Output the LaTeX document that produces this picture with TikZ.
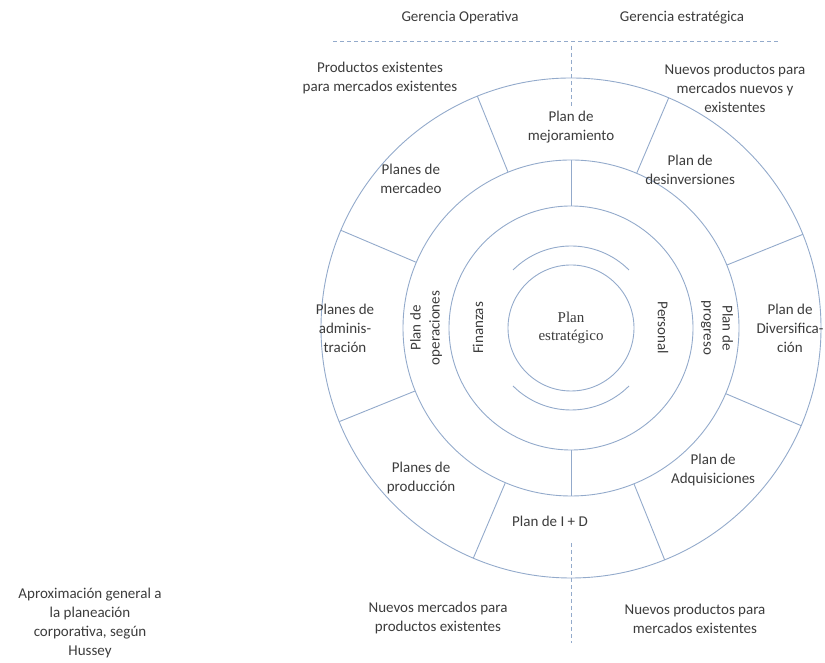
\documentclass[tikz,border=0pt]{standalone}
\usepackage{fontspec}
\setmainfont{Carlito}
\newfontfamily\tnr{Liberation Serif}
\definecolor{linea}{HTML}{93AACB}
\definecolor{texto}{HTML}{3C3C3C}
\begin{document}
\begin{tikzpicture}[x=1pt,y=1pt,font=\fontsize{15}{19}\selectfont,text=texto]
\tikzset{c/.style={draw=linea,line width=0.9pt,circle,inner sep=0,outer sep=0},
t/.style={align=center,inner sep=1pt},
l/.style={draw=linea,line width=0.9pt},
d/.style={draw=linea,line width=0.9pt,dash pattern=on 4pt off 3pt}}
\useasboundingbox(0,0)rectangle(825,663);
\coordinate(O)at(571,335);
%%Circulos
\path(O)node[c,minimum size=500pt](c5){}
node[c,minimum size=336pt](c4){}
node[c,minimum size=244pt](c3){}
node[c,minimum size=126pt,align=center,font=\tnr\fontsize{15}{18}\selectfont](c1){Plan\\estratégico};
\draw[l](O)++(45:82)arc[start angle=45,end angle=135,radius=82];
\draw[l](O)++(225:82)arc[start angle=225,end angle=315,radius=82];
\foreach \a in {22.5,67.5,...,337.5}
\draw[l](c4.\a)--(c5.\a);
\foreach \a in {90,270}
\draw[l](c3.\a)--(c4.\a);
%%Lineas punteadas
\coordinate(h1)at(333,622);\coordinate(h2)at(780,622);
\coordinate(v1)at(571,617);\coordinate(v2)at(571,556);
\coordinate(v3)at(571,120);\coordinate(v4)at(571,20);
\draw[d](h1)--(h2);
\draw[d](v1)--(v2);
\draw[d](v3)--(v4);
%%Anillo exterior
\path(O)++(90:201)node[t](p1){Plan de\\mejoramiento};
\path(O)++(53:198)node[t](p2){Plan de\\desinversiones};
\path(O)++(0:219)node[t](p3){Plan de\\Diversifica-\\ción};
\path(O)++(-45:201)node[t](p4){Plan de\\Adquisiciones};
\path(O)++(-21,-193)node[t](p5){Plan de I + D};
\path(O)++(-135:212)node[t](p6){Planes de\\producción};
\path(O)++(180:226)node[t](p7){Planes de\\adminis-\\tración};
\path(O)++(137:219)node[t](p8){Planes de\\mercadeo};
%%Anillos interiores
\path(O)++(-145,0)node[t,rotate=90](po){Plan de\\operaciones};
\path(O)++(146,0)node[t,rotate=-90](pp){Plan de\\progreso};
\path(O)++(-93,0)node[t,rotate=90](fi){Finanzas};
\path(O)++(92,0)node[t,rotate=-90](pe){Personal};
%%Textos de fuera
\path(460,645)node[t](go){Gerencia Operativa}(682,645)node[t](ge){Gerencia estratégica};
\path(380,585)node[t](q1){Productos existentes\\para mercados existentes}
(735,575)node[t](q2){Nuevos productos para\\mercados nuevos y\\existentes}
(438,45)node[t](q3){Nuevos mercados para\\productos existentes}
(695,44)node[t](q4){Nuevos productos para\\mercados existentes};
\path(90,40)node[t](cap){Aproximación general a\\la planeación\\corporativa, según\\Hussey};
\end{tikzpicture}
\end{document}
